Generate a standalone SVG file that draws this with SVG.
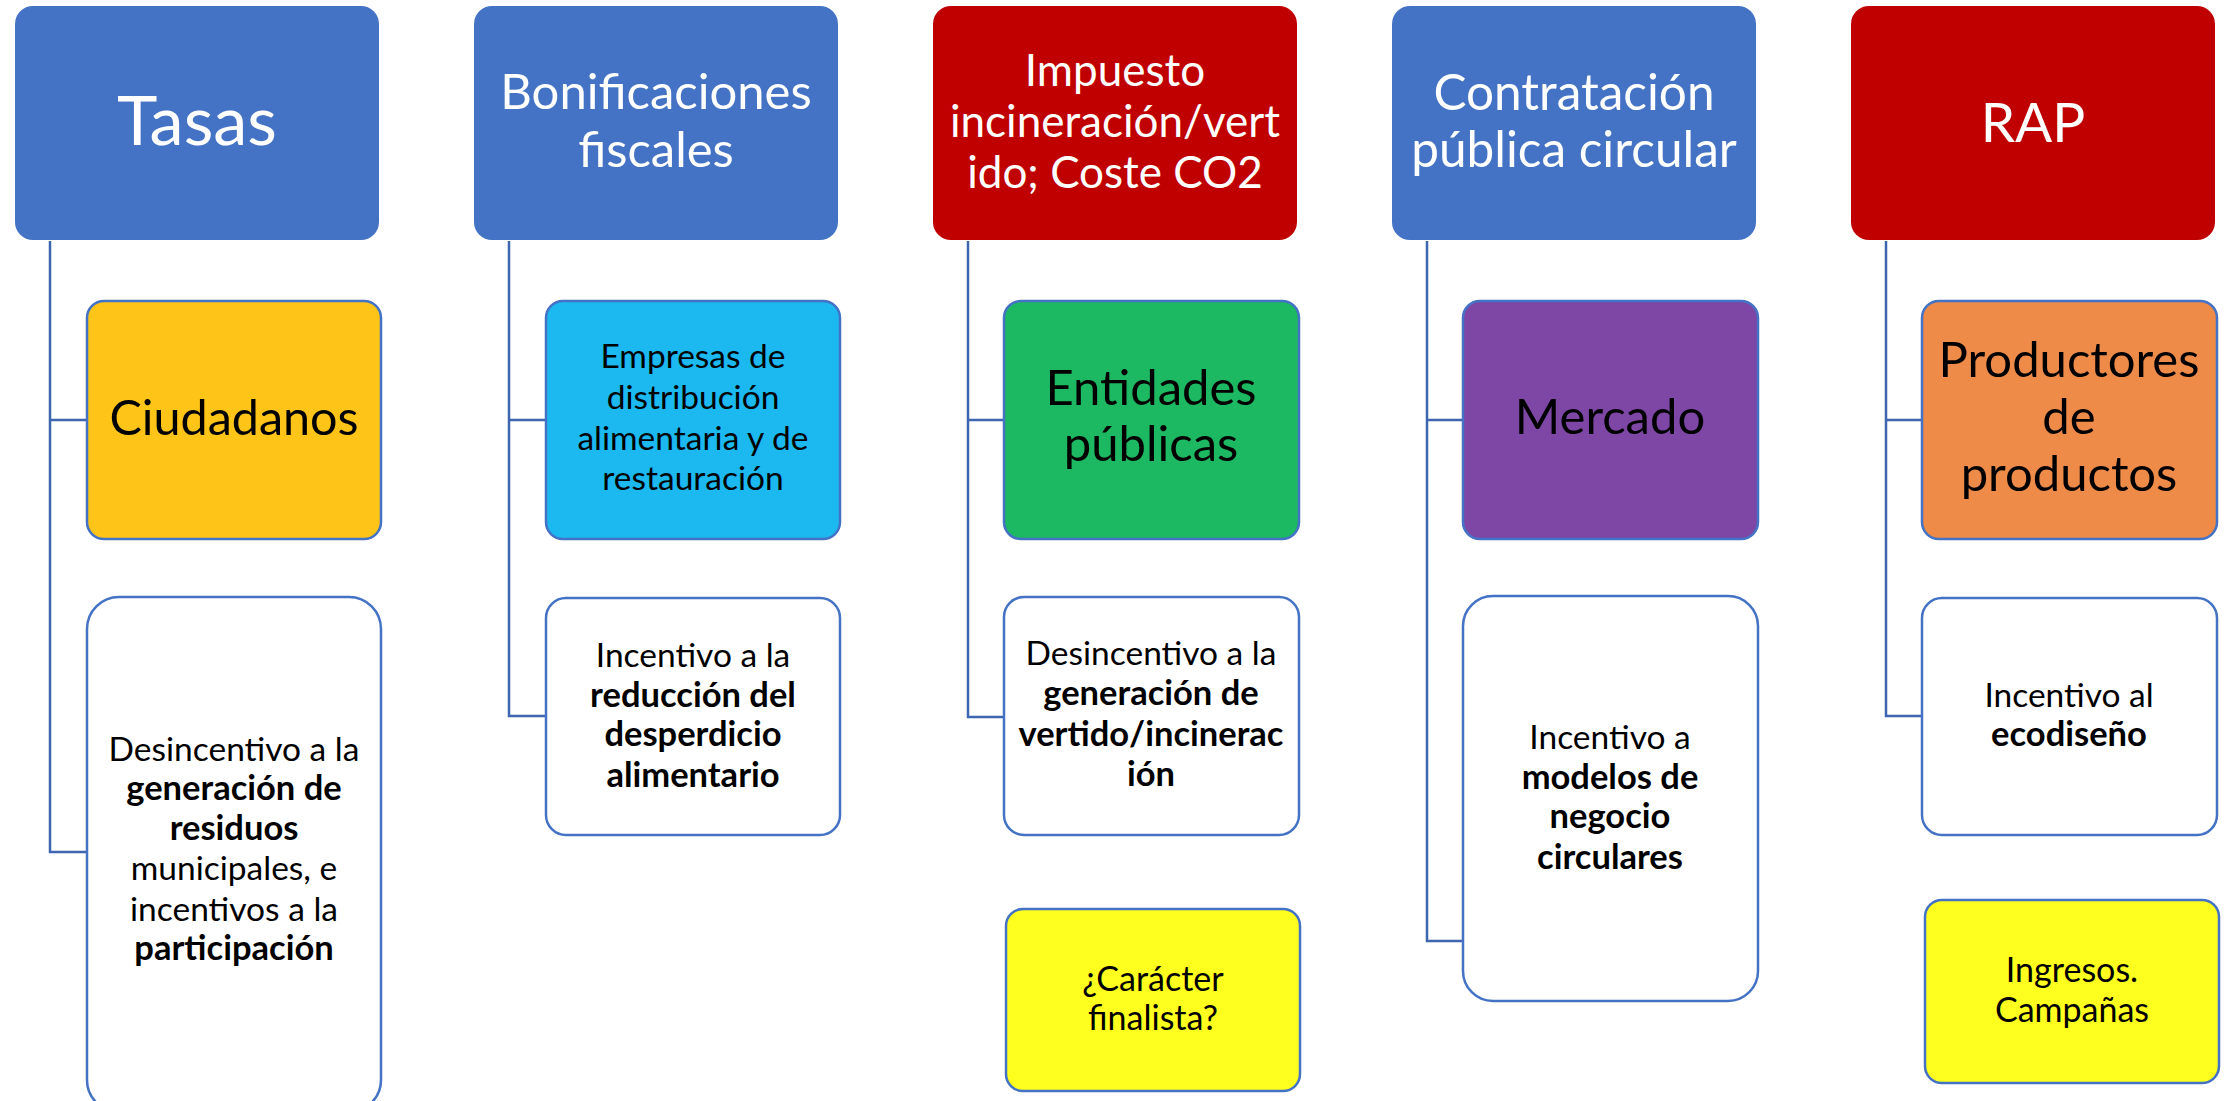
<svg xmlns="http://www.w3.org/2000/svg" width="2231" height="1101" viewBox="0 0 2231 1101">
<style>
text{font-family:Lato,"Open Sans","Liberation Sans",sans-serif;text-anchor:middle}
.hd{stroke:none}
.blue{fill:#4472C4}
.red{fill:#C00000}
.ch{stroke:#4472C4;stroke-width:2.5}
.ht{fill:#FFFFFF}
.ct{fill:#000000}
.s{font-size:33.5px}
.b{font-weight:bold;font-size:34.5px}
.y{font-size:34px}
.m{font-size:49px}
.conn{fill:none;stroke:#3D65B0;stroke-width:2.5}
</style>
<rect width="2231" height="1101" fill="#FFFFFF"/>
<g id="connectors" class="conn">
<path d="M50 241V852H87M50 420H87"/>
<path d="M509 241V716H546M509 420H546"/>
<path d="M968 241V717H1004M968 420H1004"/>
<path d="M1427 241V941H1463M1427 420H1463"/>
<path d="M1886 241V716H1922M1886 420H1922"/>
</g>
<g id="h-tasas">
<rect class="hd blue" x="15" y="6" width="364" height="234" rx="18"/>
<text class="ht" x="197" y="145" font-size="68.5">Tasas</text>
</g>
<g id="h-bonificaciones">
<rect class="hd blue" x="474" y="6" width="364" height="234" rx="18"/>
<text class="ht" x="656" y="109" font-size="49">Bonificaciones</text>
<text class="ht" x="656" y="167" font-size="49">fiscales</text>
</g>
<g id="h-impuesto">
<rect class="hd red" x="933" y="6" width="364" height="234" rx="18"/>
<text class="ht" x="1115" y="86" font-size="44">Impuesto</text>
<text class="ht" x="1115" y="137" font-size="44">incineración/vert</text>
<text class="ht" x="1115" y="188" font-size="44">ido; Coste CO2</text>
</g>
<g id="h-contratacion">
<rect class="hd blue" x="1392" y="6" width="364" height="234" rx="18"/>
<text class="ht" x="1574" y="110" font-size="49.5">Contratación</text>
<text class="ht" x="1574" y="167" font-size="49.5">pública circular</text>
</g>
<g id="h-rap">
<rect class="hd red" x="1851" y="6" width="364" height="234" rx="18"/>
<text class="ht" x="2033" y="142" font-size="55">RAP</text>
</g>
<g id="c-ciudadanos">
<rect class="ch" fill="#FEC418" x="87" y="301" width="294" height="238" rx="17"/>
<text class="ct" x="234" y="435" font-size="48.5">Ciudadanos</text>
</g>
<g id="c-empresas">
<rect class="ch" fill="#1CB8F0" x="546" y="301" width="294" height="238" rx="17"/>
<text class="ct s" x="693" y="368">Empresas de</text>
<text class="ct s" x="693" y="409">distribución</text>
<text class="ct s" x="693" y="450">alimentaria y de</text>
<text class="ct s" x="693" y="490">restauración</text>
</g>
<g id="c-entidades">
<rect class="ch" fill="#1DB862" x="1004" y="301" width="295" height="238" rx="17"/>
<text class="ct m" x="1151" y="405">Entidades</text>
<text class="ct m" x="1151" y="461">públicas</text>
</g>
<g id="c-mercado">
<rect class="ch" fill="#7E47A6" x="1463" y="301" width="295" height="238" rx="17"/>
<text class="ct m" x="1610" y="434">Mercado</text>
</g>
<g id="c-productores">
<rect class="ch" fill="#EE8B49" x="1922" y="301" width="295" height="238" rx="17"/>
<text class="ct m" x="2069" y="377">Productores</text>
<text class="ct m" x="2069" y="434">de</text>
<text class="ct m" x="2069" y="491">productos</text>
</g>
<g id="c-desincentivo-residuos">
<rect class="ch" fill="#FFFFFF" x="87" y="597" width="294" height="515" rx="32"/>
<text class="ct s" x="234" y="761">Desincentivo a la</text>
<text class="ct b" x="234" y="800">generación de</text>
<text class="ct b" x="234" y="840">residuos</text>
<text class="ct s" x="234" y="880">municipales, e</text>
<text class="ct s" x="234" y="921">incentivos a la</text>
<text class="ct b" x="234" y="960">participación</text>
</g>
<g id="c-incentivo-desperdicio">
<rect class="ch" fill="#FFFFFF" x="546" y="598" width="294" height="237" rx="20"/>
<text class="ct s" x="693" y="667">Incentivo a la</text>
<text class="ct b" x="693" y="707">reducción del</text>
<text class="ct b" x="693" y="746">desperdicio</text>
<text class="ct b" x="693" y="787">alimentario</text>
</g>
<g id="c-desincentivo-vertido">
<rect class="ch" fill="#FFFFFF" x="1004" y="597" width="295" height="238" rx="20"/>
<text class="ct s" x="1151" y="665">Desincentivo a la</text>
<text class="ct b" x="1151" y="705">generación de</text>
<text class="ct b" x="1151" y="746">vertido/incinerac</text>
<text class="ct b" x="1151" y="786">ión</text>
</g>
<g id="c-finalista">
<rect class="ch" fill="#FFFF1F" x="1006" y="909" width="294" height="182" rx="17"/>
<text class="ct y" x="1153" y="991">¿Carácter</text>
<text class="ct y" x="1153" y="1030">finalista?</text>
</g>
<g id="c-incentivo-modelos">
<rect class="ch" fill="#FFFFFF" x="1463" y="596" width="295" height="405" rx="30"/>
<text class="ct s" x="1610" y="749">Incentivo a</text>
<text class="ct b" x="1610" y="789">modelos de</text>
<text class="ct b" x="1610" y="828">negocio</text>
<text class="ct b" x="1610" y="869">circulares</text>
</g>
<g id="c-incentivo-ecodiseno">
<rect class="ch" fill="#FFFFFF" x="1922" y="598" width="295" height="237" rx="20"/>
<text class="ct s" x="2069" y="707">Incentivo al</text>
<text class="ct b" x="2069" y="746">ecodiseño</text>
</g>
<g id="c-ingresos">
<rect class="ch" fill="#FFFF1F" x="1925" y="900" width="294" height="183" rx="17"/>
<text class="ct y" x="2072" y="982">Ingresos.</text>
<text class="ct y" x="2072" y="1022">Campañas</text>
</g>
</svg>
